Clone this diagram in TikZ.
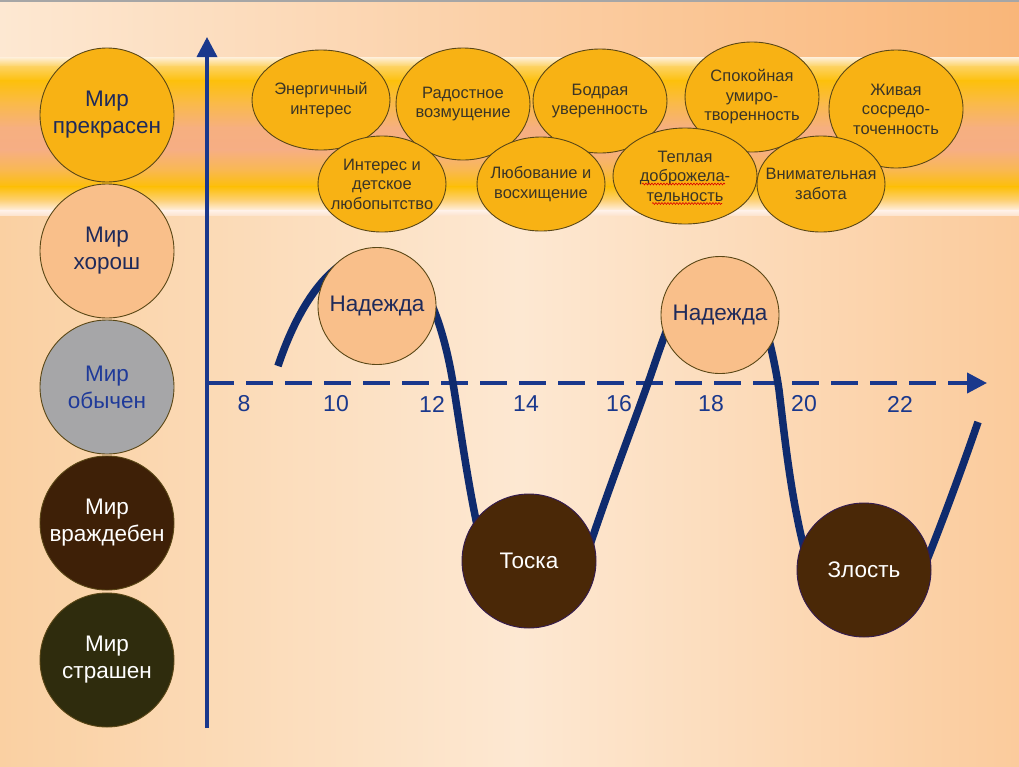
\documentclass[tikz,border=0pt]{standalone}
\usepackage{fontspec}
\setmainfont{Liberation Sans}
\usetikzlibrary{shapes.geometric,arrows.meta,decorations.pathmorphing}
\definecolor{goldc}{HTML}{F8B214}
\definecolor{peachc}{HTML}{F9BF8A}
\definecolor{grayc}{HTML}{A6A6A8}
\definecolor{brownL}{HTML}{3E2007}
\definecolor{brownT}{HTML}{4A2807}
\definecolor{olivec}{HTML}{2F2C0D}
\definecolor{navyc}{HTML}{1A388C}
\definecolor{curvec}{HTML}{0F2B6E}
\definecolor{txtdark}{HTML}{3B3526}
\definecolor{txtnavy}{HTML}{1F2A5A}
\definecolor{txtblue}{HTML}{1F3A99}
\definecolor{edgec}{HTML}{5A4716}
\definecolor{bgTL}{HTML}{FDE8D2}
\definecolor{bgTR}{HTML}{F9B679}
\definecolor{bgL}{HTML}{FAD0A2}
\definecolor{bgM}{HTML}{FDE8D2}
\definecolor{bgR}{HTML}{FBCB9C}
\definecolor{bd0}{HTML}{FEF0DC}
\definecolor{bd1}{HTML}{FDD260}
\definecolor{bd2}{HTML}{FDC00C}
\definecolor{bd3}{HTML}{FABA48}
\definecolor{bd4}{HTML}{F6AF80}
\definecolor{bd5}{HTML}{F6AE84}
\definecolor{bd6}{HTML}{F9B852}
\definecolor{bd7}{HTML}{FDBF08}
\definecolor{bd8}{HTML}{FDD27A}
\definecolor{bd9}{HTML}{FFF1E8}
\definecolor{bd10}{HTML}{FCE0C6}
\begin{document}
\begin{tikzpicture}[x=1pt,y=-1pt,
  shapebox/.style={ellipse,draw=edgec,line width=0.9pt,inner sep=0pt},
  bubble/.style={shapebox,fill=goldc},
  btext/.style={align=center,text=txtdark,font=\fontsize{16.5}{19.5}\selectfont},
  mirtext/.style={align=center,font=\fontsize{22.5}{27}\selectfont},
  bigtext/.style={font=\fontsize{22.5}{26}\selectfont},
  ticklab/.style={text=navyc,font=\fontsize{23}{26}\selectfont},
  axisline/.style={navyc,-{Triangle[width=20pt,length=20pt]}},
  wave/.style={red!85!black,line width=0.6pt,decorate,decoration={snake,amplitude=0.9pt,segment length=3pt}}
]
\useasboundingbox (0,0) rectangle (1019,766);
% background
\shade[left color=bgTL,right color=bgTR] (0,0) rectangle (1019,57.5);
\fill[gray!70] (0,0) rectangle (1019,2);
\shade[top color=bd0,bottom color=bd1] (0,57) rectangle (1019,67);
\shade[top color=bd1,bottom color=bd2] (0,66.5) rectangle (1019,81);
\shade[top color=bd2,bottom color=bd3] (0,80.5) rectangle (1019,103);
\shade[top color=bd3,bottom color=bd4] (0,102.5) rectangle (1019,128);
\shade[top color=bd4,bottom color=bd5] (0,127.5) rectangle (1019,150);
\shade[top color=bd5,bottom color=bd6] (0,149.5) rectangle (1019,170);
\shade[top color=bd6,bottom color=bd7] (0,169.5) rectangle (1019,187);
\shade[top color=bd7,bottom color=bd8] (0,186.5) rectangle (1019,201);
\shade[top color=bd8,bottom color=bd9] (0,200.5) rectangle (1019,211);
\shade[top color=bd9,bottom color=bd10] (0,210.5) rectangle (1019,217);
\shade[left color=bgL,right color=bgM] (0,216.5) rectangle (520,766);
\shade[left color=bgM,right color=bgR] (519.5,216.5) rectangle (1019,766);
% axes
\coordinate (yb) at (207,728);
\coordinate (yt) at (207,37);
\coordinate (xl) at (207,383);
\coordinate (xr) at (987,383);
\draw[axisline,line width=3.5pt] (yb) -- (yt);
\draw[axisline,line width=4pt,dash pattern=on 27pt off 12pt] (xl) -- (xr);
% tick labels
\foreach \v/\px in {8/244,10/336,12/432,14/526,16/619,18/711,20/804,22/900}
  \node[ticklab] (t\v) at (\px,404) {\v};
% curve
\draw[curvec,line width=7.5pt]
  (278,366) .. controls (300,300) and (335,252) .. (378,252)
            .. controls (415,252) and (441,310) .. (453,383)
            .. controls (463,445) and (470,500) .. (485,560)
            .. controls (495,600) and (565,620) .. (590,545)
            .. controls (610,485) and (635,420) .. (648,383)
            .. controls (660,350) and (685,262) .. (718,262)
            .. controls (750,262) and (770,330) .. (779,390)
            .. controls (785,440) and (792,510) .. (810,570)
            .. controls (825,620) and (900,625) .. (925,565)
            .. controls (945,515) and (965,460) .. (978,422);
% emotion circles on curve
\node[shapebox,fill=peachc,minimum width=118pt,minimum height=117pt] (n1) at (377,306) {};
\node[bigtext,text=txtnavy] (n1t) at (n1) {Надежда};
\node[shapebox,fill=peachc,minimum width=118pt,minimum height=117pt] (n2) at (720,315) {};
\node[bigtext,text=txtnavy] (n2t) at (n2) {Надежда};
\node[shapebox,draw=brownT!70!blue,fill=brownT,minimum width=134pt,minimum height=134pt] (tos) at (529,561) {};
\node[bigtext,text=white] (tost) at (tos) {Тоска};
\node[shapebox,draw=brownT!70!blue,fill=brownT,minimum width=134pt,minimum height=134pt] (zl) at (864,570) {};
\node[bigtext,text=white] (zlt) at (zl) {Злость};
% left column
\node[shapebox,fill=goldc,minimum width=134pt,minimum height=134pt] (m1) at (107,115) {};
\node[mirtext,text=txtnavy] (m1t) at (m1) {Мир\\прекрасен};
\node[shapebox,fill=peachc,minimum width=134pt,minimum height=134pt] (m2) at (107,251) {};
\node[mirtext,text=txtnavy] (m2t) at (m2) {Мир\\хорош};
\node[shapebox,fill=grayc,minimum width=134pt,minimum height=134pt] (m3) at (107,387) {};
\node[mirtext,text=txtblue] (m3t) at (m3) {Мир\\обычен};
\node[shapebox,fill=brownL,minimum width=134pt,minimum height=134pt] (m4) at (107,523) {};
\node[mirtext,text=white] (m4t) at (m4) {Мир\\враждебен};
\node[shapebox,fill=olivec,minimum width=134pt,minimum height=134pt] (m5) at (107,660) {};
\node[mirtext,text=white] (m5t) at (m5) {Мир\\страшен};
% top bubbles, upper row
\node[bubble,minimum width=138pt,minimum height=100pt] (b1) at (321,100) {};
\node[btext] (b1t) at (b1) {Энергичный\\интерес};
\node[bubble,minimum width=134pt,minimum height=112pt] (b2) at (463,104) {};
\node[btext] (b2t) at (b2) {Радостное\\возмущение};
\node[bubble,minimum width=134pt,minimum height=104pt] (b3) at (600,101) {};
\node[btext] (b3t) at (b3) {Бодрая\\уверенность};
\node[bubble,minimum width=134pt,minimum height=110pt] (b4) at (752,97) {};
\node[btext] (b4t) at (b4) {Спокойная\\умиро-\\творенность};
\node[bubble,minimum width=134pt,minimum height=118pt] (b5) at (896,109) {};
\node[btext] (b5t) at (b5) {Живая\\сосредо-\\точенность};
% lower row
\node[bubble,minimum width=128pt,minimum height=96pt] (b6) at (382,184) {};
\node[btext] (b6t) at (b6) {Интерес и\\детское\\любопытство};
\node[bubble,minimum width=128pt,minimum height=94pt] (b7) at (541,184) {};
\node[btext] (b7t) at (b7) {Любование и\\восхищение};
\node[bubble,minimum width=144pt,minimum height=96pt] (b8) at (685,176) {};
\node[btext] (b8t) at (b8) {Теплая\\доброжела-\\тельность};
\draw[wave] (642,184) -- (725,184);
\draw[wave] (652,203.5) -- (722,203.5);
\node[bubble,minimum width=128pt,minimum height=96pt] (b9) at (821,184) {};
\node[btext] (b9t) at (b9) {Внимательная\\забота};
\end{tikzpicture}
\end{document}
